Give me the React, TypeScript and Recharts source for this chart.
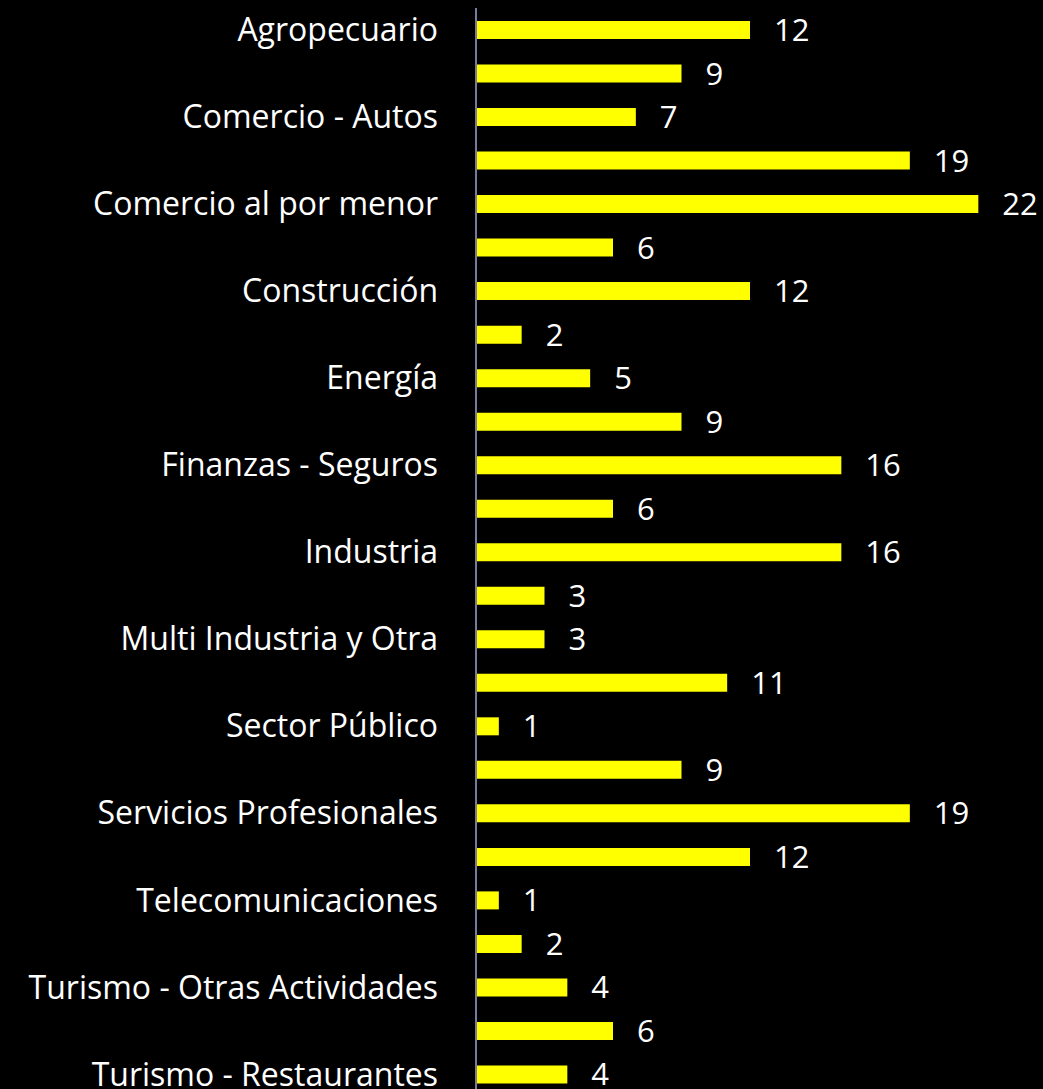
import React from "react";
import { BarChart, Bar, XAxis, YAxis, LabelList } from "recharts";

const categories = [
  "Agropecuario",
  "Bienes Raíces",
  "Comercio - Autos",
  "Comercio al por mayor",
  "Comercio al por menor",
  "Comunicaciones",
  "Construcción",
  "Educación",
  "Energía",
  "Entretenimiento",
  "Finanzas - Seguros",
  "Gobierno",
  "Industria",
  "Minería",
  "Multi Industria y Otra",
  "Salud",
  "Sector Público",
  "Servicios Financieros",
  "Servicios Profesionales",
  "Tecnología",
  "Telecomunicaciones",
  "Transporte",
  "Turismo - Otras Actividades",
  "Turismo - Parques",
  "Turismo - Restaurantes",
];

const values = [12, 9, 7, 19, 22, 6, 12, 2, 5, 9, 16, 6, 16, 3, 3, 11, 1, 9, 19, 12, 1, 2, 4, 6, 4];

const xDomain = [0, 24];

const data = categories.map((name, i) => ({ name, value: values[i] }));

const FONT = "'Open Sans', sans-serif";

export default function App() {
  return (
    <div
      style={{
        position: "absolute",
        left: 0,
        top: 0,
        width: 1043,
        height: 1089,
        background: "#000",
        overflow: "hidden",
      }}
    >
      <BarChart
        width={1043}
        height={1096}
        data={data}
        layout="vertical"
        margin={{ top: 8, right: 19, bottom: 0, left: 0 }}
        barCategoryGap={0}
      >
        <XAxis type="number" domain={xDomain} hide />
        <YAxis
          type="category"
          dataKey="name"
          width={476}
          interval={1}
          tickLine={false}
          tickMargin={32}
          axisLine={{ stroke: "#7a7a9a", strokeWidth: 2 }}
          tick={{ fill: "#ffffff", fontSize: 32, fontFamily: FONT }}
        />
        <Bar dataKey="value" fill="#ffff00" barSize={18} isAnimationActive={false}>
          <LabelList
            dataKey="value"
            position="right"
            offset={24}
            style={{ fill: "#ffffff", fontSize: 31, fontFamily: FONT }}
          />
        </Bar>
      </BarChart>
    </div>
  );
}
